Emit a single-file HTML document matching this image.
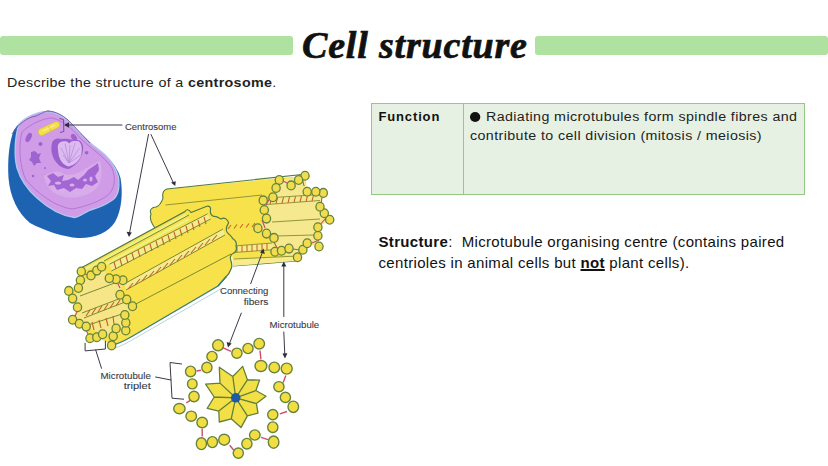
<!DOCTYPE html>
<html><head><meta charset="utf-8">
<style>
*{margin:0;padding:0;box-sizing:border-box}
html,body{width:828px;height:466px;overflow:hidden;background:#fff}
body{position:relative;font-family:"Liberation Sans",sans-serif}
.bar{position:absolute;top:36.2px;height:18.6px;background:#afe1a0;border-radius:3px}
.t{position:absolute;white-space:nowrap;transform-origin:0 0}
#title{left:302px;top:23px;font-family:"Liberation Serif",serif;font-weight:bold;font-style:italic;font-size:38px;color:#111;line-height:44px;letter-spacing:0.82px;-webkit-text-stroke:0.7px #111}
#q{left:6.5px;top:74px;font-size:13px;color:#222;line-height:18px;letter-spacing:0.3px;transform:scaleX(1.1)}
#tbl{position:absolute;left:371px;top:103px;width:434px;height:91.5px;border:1.4px solid #94c985;background:#e7f1e3}
#div{position:absolute;left:90.5px;top:0;width:1.3px;height:100%;background:#94c985}
#fn{left:378.5px;top:107.5px;font-size:13px;font-weight:bold;color:#111;line-height:18.5px;letter-spacing:0.85px}
.f{font-size:12.5px;color:#222;line-height:18.5px;letter-spacing:0.35px;transform:scaleX(1.14)}
.bul{display:inline-block;width:9px;height:9.5px;border-radius:50%;background:#111;margin-right:5px;vertical-align:-0.5px}
.s{font-size:15px;color:#111;line-height:20px;letter-spacing:0.33px}
#ill{position:absolute;left:0;top:0}
</style></head><body>
<div class="bar" style="left:0;width:293px"></div>
<div class="bar" style="left:535px;width:293px"></div>
<div id="title" class="t">Cell structure</div>
<div id="q" class="t">Describe the structure of a <b>centrosome</b>.</div>
<div id="tbl"><div id="div"></div></div>
<div id="fn" class="t">Function</div>
<div class="t f" style="left:470px;top:108px"><span class="bul"></span>Radiating microtubules form spindle fibres and</div>
<div class="t f" style="left:470px;top:126.5px">contribute to cell division (mitosis / meiosis)</div>
<div class="t s" style="left:378.5px;top:232px"><b>Structure</b>:<span style="display:inline-block;width:9px"></span>Microtubule organising centre (contains paired</div>
<div class="t s" style="left:378.5px;top:252.8px">centrioles in animal cells but <b><u style="text-underline-offset:1.3px;text-decoration-thickness:1.5px">not</u></b> plant cells).</div>
<svg id="ill" width="828" height="466" viewBox="0 0 828 466">
<!-- cell -->
<path d="M48,110.5 C56,111 64,116 72,124 C80,133 88,142 98,149 C108,156 117,166 120.5,178 C123,192 122,210 115,222 C108,233 94,238.5 78,238 C64,237 45,231 30,223 C18,213 10,197 8.5,178 C7.5,160 9,142 14,130 C20,120 32,113 48,110.5 Z" fill="#1e63b2"/>
<path d="M48,111.5 C56,112 64,117 71,124 C80,133 88,142 98,149 C108,156 115,165 118.5,177 C120,189 118,196 112.5,200 C106,204.5 100,207.5 92,209.5 C86,211 80,217 74.5,217.5 C62,216 48,208 37,198 C29,191 21,181 17,168 C14,156 14.5,138 19,124 C27,116 37,112 48,111.5 Z" fill="#d09be7" stroke="#b0c8f2" stroke-width="1.3"/>
<path d="M22,132 C30,124 44,118 52,118 C62,120 72,128 80,138 C90,148 104,156 112,168 C116,178 115,189 108,195 C99,202 84,207 72,209 C56,207 38,194 26,180 C20,168 18,146 22,132 Z" fill="none" stroke="#a56ac8" stroke-width="0.7"/>
<path d="M12,134 C18,124 28,117 36,116 C42,113 46,111 48,111.2 C56,111.5 62,115 68,120 C76,128 84,137 90,143" fill="none" stroke="#7a5aa8" stroke-width="0.9"/>
<!-- nucleus -->
<path d="M52,143 C53,139 57,137.5 62,139 C68,138 72,140 74,140 C80,139 84,143 83,150 C82,158 77,165 69,169 C62,169 56,164 53,157 C51,152 51,147 52,143 Z" fill="#9c60ce"/>
<path d="M58,145 C59,141.5 63,140.5 67,141.5 L69.2,143.5 C71,141 75,140 79,141.5 C82,144 82.5,150 81,156 C79,161 75,165 68.5,166.5 C63,165 59.5,160 58.5,154 C58,150 57.5,147 58,145 Z" fill="#dcbcf0"/>
<g stroke="#b587d8" stroke-width="0.7"><path d="M69,163 L61,148 M69,163 L65,143.5 M69,163 L70,145 M69,163 L75,143 M69,163 L79.5,148 M69,163 L80.5,155 M69,163 L63,155"/></g>
<!-- chromosomes -->
<path d="M44,176 C52,171 58,170 64,174 C70,176 76,174 82,171 C88,167 94,163 100,161 C103,170 102,182 96,189 C87,196 76,199 65,197 C55,195 46,189 44,176 Z" fill="#d8ace8"/>
<g fill="#a366d4">
<path d="M47,176 L53,173 L58,177 L64,175 L62,181 L68,180 L74,177 L78,180 L84,175 L88,170 L94,166 L98,163 L99,170 L95,176 L98,182 L92,186 L86,184 L82,189 L76,188 L70,192 L64,188 L57,190 L54,185 L48,186 L51,181 Z"/>
</g>
<g fill="#d6b0ec"><ellipse cx="58" cy="183" rx="3" ry="1.6"/><ellipse cx="72" cy="185" rx="2.5" ry="1.5"/><ellipse cx="85" cy="180" rx="2" ry="1.5"/><ellipse cx="62" cy="191" rx="3" ry="1.4"/><ellipse cx="78" cy="193" rx="4" ry="1.5"/><ellipse cx="91" cy="179" rx="1.6" ry="2.5"/></g>
<g fill="#9d64d0">
<ellipse cx="28.7" cy="137.5" rx="2.6" ry="5" transform="rotate(25 28.7 137.5)"/>
<path d="M31,152 L35,151 L38,154 L41,153 L39,158 L41,163 L37,163 L34,166 L32,162 L29,160 L31,157 Z"/>
<circle cx="40.5" cy="144" r="2"/>
<ellipse cx="74" cy="137.5" rx="2.4" ry="4" transform="rotate(-35 74 137.5)"/>
<circle cx="86.6" cy="152.8" r="1.8"/>
<circle cx="33" cy="176" r="1.2"/><circle cx="45" cy="168" r="1"/>
</g>
<!-- centriole -->
<path d="M40,129 L55,122 C59,120.5 61,125 58,127.5 L43,135 C39,137 36.5,131 40,129 Z" fill="#f4e04a" stroke="#e0c42c" stroke-width="0.7"/>
<path d="M43,131 L55,125" stroke="#faf0a0" stroke-width="1.2"/>
<path d="M48.5,126 L51,131" stroke="#d8b830" stroke-width="0.7"/>
<path d="M59.5,118.5 L63.5,119.5 L63.8,131.5 L60,132.5" fill="none" stroke="#6a4a88" stroke-width="0.9"/>
<!-- upper bundle -->
<g id="ub">
<path d="M167,189 L305,175.7 L307.2,191.8 L315.8,191.8 L323.3,192.9 L320,206.8 L324.3,213.2 L329.7,219.7 L317.9,227.2 L317.9,235.8 L319,246.5 L307.2,243.3 L302.9,249.7 L297.5,257.2 L296,261 L233,266 L232,252 L155,228 C152,224 149,219 151,214 C149,210 152,207 156,207 C161,205 162,201 163,198 C162,193 164,190 167,189 Z" fill="#f8e24c"/>
<path d="M302,174.5 L167,189 C164,190 162,193 163,198 C162,201 161,205 156,207 C152,207 149,210 151,214 C149,219 152,224 155,228 M233,266 L296,261" fill="none" stroke="#4f7a42" stroke-width="1.1"/>
<path d="M279,180 L305,176 L307,192 L323,193 L320,207 L329,220 L318,227 L319,246 L307,243 L297,257 L275,252 L274,238 L258,228 L266,218 L263,200 L273,197 Z" fill="#f6e88e"/>
<path d="M234,246 L272,243 L276,249.5 L234,252.5 Z M234,259 L298,256 L296,261 L233,266 Z" fill="#f7eb8e"/>
<g stroke="#8a9434" stroke-width="0.95" fill="none">
<path d="M165.5,205 L262,195"/>
<path d="M266,198 L320,194.5 M267,204.5 L320,200.5"/>
<path d="M272,222 L320,219"/>
<path d="M276,236 L314,235"/>
<path d="M234,246 L272,243 M234,252.5 L276,249.5"/>
<path d="M234,259 L298,256"/>
</g>
<g stroke="#c0642a" stroke-width="1.05">
<path d="M237,246 L237,252 M242,245.5 L242,252 M247,245 L247,251.5 M252,244.8 L252,251.2 M257,244.5 L257,251 M262,244 L262,250.5 M267,243.5 L267,250"/>
<path d="M270,204 L271.5,198 M276,203.6 L277.5,197.6 M282,203.2 L283.5,197.2 M288,202.8 L289.5,196.8 M294,202.4 L295.5,196.4 M300,202 L301.5,196 M306,201.6 L307.5,195.6 M312,201.2 L313.5,195.2"/>
<path d="M228,229 L231,225 M234,228.5 L237,224.5 M240,228 L243,224 M246,227.5 L249,223.5 M252,227 L255,223"/>
</g>
<g stroke="#c8486a" stroke-width="1.1" fill="none">
<path d="M283,181 L289,184 M302,177 L304,186 M310,191 L315,192 M322,197 L321,206 M326,218 L319,226 M319,240 L312,243 M300,250 L293,249 M278,250 L273,240 M265,228 L262,220 M266,205 L270,198"/>
</g>
<g fill="#f1dc4e" stroke="#66843a" stroke-width="1.3">
<ellipse cx="279.3" cy="180" rx="4.1" ry="4.4"/><ellipse cx="276.1" cy="188" rx="4.1" ry="4.4"/><ellipse cx="272.9" cy="197.2" rx="4.1" ry="4.4"/>
<ellipse cx="263.2" cy="200.4" rx="4.1" ry="4.4"/><ellipse cx="264.3" cy="210" rx="4.1" ry="4.4"/><ellipse cx="266.5" cy="218.6" rx="4.1" ry="4.4"/>
<ellipse cx="257.9" cy="228.3" rx="4.1" ry="4.4"/><ellipse cx="266.5" cy="233.6" rx="4.1" ry="4.4"/><ellipse cx="274" cy="237.9" rx="4.1" ry="4.4"/>
<ellipse cx="275" cy="251.8" rx="4.1" ry="4.4"/><ellipse cx="281.5" cy="250.8" rx="4.1" ry="4.4"/><ellipse cx="289" cy="248.6" rx="4.1" ry="4.4"/>
<ellipse cx="297.5" cy="257.2" rx="4.1" ry="4.4"/><ellipse cx="302.9" cy="249.7" rx="4.1" ry="4.4"/><ellipse cx="307.2" cy="243.3" rx="4.1" ry="4.4"/>
<ellipse cx="319" cy="246.5" rx="4.1" ry="4.4"/><ellipse cx="317.9" cy="235.8" rx="4.1" ry="4.4"/><ellipse cx="317.9" cy="227.2" rx="4.1" ry="4.4"/>
<ellipse cx="329.7" cy="219.7" rx="4.1" ry="4.4"/><ellipse cx="324.3" cy="213.2" rx="4.1" ry="4.4"/><ellipse cx="320" cy="206.8" rx="4.1" ry="4.4"/>
<ellipse cx="323.3" cy="192.9" rx="4.1" ry="4.4"/><ellipse cx="315.8" cy="191.8" rx="4.1" ry="4.4"/><ellipse cx="307.2" cy="191.8" rx="4.1" ry="4.4"/>
<ellipse cx="305" cy="175.7" rx="4.1" ry="4.4"/><ellipse cx="298.6" cy="180" rx="4.1" ry="4.4"/><ellipse cx="291.1" cy="185.4" rx="4.1" ry="4.4"/>
</g>
</g>
<!-- left bundle -->
<g id="lb">
<path d="M81,268 L185,211.5 C186.5,209 189,209 191,212.5 L206.8,206.3 C209,205.5 211,207 210.5,210 C210,213 211,215.5 214,216.5 C217,216 219,218 221,219 C224,217 228,219 228.6,223 C227,226 225,228 227,232 C229,235 232,236 232.5,238.5 C235,240 237,243 236,246 C237,249 236,252 233,253.5 C230,255 230,258 231,261 C232,264 232,267 231,269 C230,272 228,275 226.3,276.5 L218,286 L131,337 C124,341 118,344 112,345 L96.8,337.2 L90,338.2 L86.2,326.6 L79.4,323.7 L72.6,319.8 L77.5,307.3 L72.6,298.6 L68.8,290.9 L78.4,288 L80.4,280.2 L81.3,271.5 Z" fill="#f8e24c"/>
<path d="M81,268 L185,211.5 C186.5,209 189,209 191,212.5 L206.8,206.3 C209,205.5 211,207 210.5,210 C210,213 211,215.5 214,216.5 C217,216 219,218 221,219 C224,217 228,219 228.6,223 C227,226 225,228 227,232 C229,235 232,236 232.5,238.5 C235,240 237,243 236,246 C237,249 236,252 233,253.5 C230,255 230,258 231,261 C232,264 232,267 231,269 C230,272 228,275 226.3,276.5 L218,286" fill="none" stroke="#4f7a42" stroke-width="1.2"/>
<path d="M84,270 L186,215 M104,265 L189,219" stroke="#eef08a" stroke-width="2.2" fill="none"/>
<path d="M226.3,276.5 L218,286 L131,337 C124,341 118,344 112,345" stroke="#3d7f78" stroke-width="1.4" fill="none"/>
<path d="M221,288.8 L132,340 C125,344 119,347 114,348" stroke="#bcd4da" stroke-width="1" fill="none"/>
<path d="M91,275 L101.6,266.7 L109,278 L122.9,280.2 L120,294.7 L132.5,306.3 L124.8,315 L125.8,330.5 L113.2,336.3 L102.6,334.3 L86.2,326.6 L72.6,319.8 L77.5,307.3 L72.6,298.6 L78.4,288 Z" fill="#f6e688"/>
<path d="M109.6,264.2 L207.6,213.8 L210.6,219 L111.3,271.1 Z M124,284 L223,229 L225,235 L126,290 Z" fill="#f7eb8e"/>
<g stroke="#7a8a30" stroke-width="1" fill="none">
<path d="M104,261 L189,215"/>
<path d="M109.6,264.2 L207.6,213.8 M111.3,271.1 L210.6,219"/>
<path d="M124,284 L223,229 M126,290 L225,235"/>
<path d="M134,305 L231,254"/>
<path d="M80,296 L120,281 M82,313 L124,297 M84,318 L125,302"/>
<path d="M82,327 L122,314"/>
</g>
<g stroke="#c0642a" stroke-width="1.1">
<path d="M114,262 L116,269 M120,259 L122,266 M126,256 L128,263 M132,253 L134,260 M138,250 L140,257 M144,247 L146,254 M150,244 L152,251 M156,241 L158,248 M162,238 L164,245 M168,235 L170,242 M174,232 L176,239 M180,229 L182,236 M186,226 L188,233 M192,223 L194,230 M198,220 L200,227 M204,217 L206,224"/>
<path d="M128,289 L133,283 M135,285 L140,279 M142,281 L147,275 M149,277 L154,271 M156,273 L161,267 M163,269 L168,263 M170,265 L175,259 M177,261 L182,255 M184,257 L189,251 M191,253 L196,247 M198,249 L203,243 M205,245 L210,239 M212,241 L217,235"/>
<path d="M86,316 L90,310 M92,314 L96,308 M98,312 L102,306 M104,310 L108,304 M110,308 L114,302 M116,306 L120,300"/>
<path d="M92,322 L94,330 M99,320 L101,328 M106,318 L108,326 M113,316 L114,324"/>
</g>
<g stroke="#c8486a" stroke-width="1.1" fill="none">
<path d="M85,274 L92,276 M98,270 L103,267 M80,285 L80,288 M71,295 L74,300 M77,312 L74,318 M84,326 L88,334 M99,336 L107,335 M114,332 L117,328 M124,326 L126,318 M128,303 L122,296 M120,288 L116,280"/>
</g>
<g fill="#f1dc4e" stroke="#66843a" stroke-width="1.3">
<ellipse cx="81.3" cy="271.5" rx="4.1" ry="4.4"/><ellipse cx="91" cy="275.4" rx="4.1" ry="4.4"/><ellipse cx="96.8" cy="270.6" rx="4.1" ry="4.4"/><ellipse cx="101.6" cy="266.7" rx="4.1" ry="4.4"/>
<ellipse cx="80.4" cy="280.2" rx="4.1" ry="4.4"/><ellipse cx="78.4" cy="288" rx="4.1" ry="4.4"/><ellipse cx="68.8" cy="290.9" rx="4.1" ry="4.4"/>
<ellipse cx="72.6" cy="298.6" rx="4.1" ry="4.4"/><ellipse cx="77.5" cy="307.3" rx="4.1" ry="4.4"/><ellipse cx="72.6" cy="319.8" rx="4.1" ry="4.4"/>
<ellipse cx="79.4" cy="323.7" rx="4.1" ry="4.4"/><ellipse cx="86.2" cy="326.6" rx="4.1" ry="4.4"/><ellipse cx="90" cy="338.2" rx="4.1" ry="4.4"/>
<ellipse cx="96.8" cy="337.2" rx="4.1" ry="4.4"/><ellipse cx="102.6" cy="334.3" rx="4.1" ry="4.4"/><ellipse cx="113.2" cy="336.3" rx="4.1" ry="4.4"/>
<ellipse cx="116.1" cy="328.5" rx="4.1" ry="4.4"/><ellipse cx="125.8" cy="330.5" rx="4.1" ry="4.4"/><ellipse cx="125.8" cy="322.7" rx="4.1" ry="4.4"/>
<ellipse cx="124.8" cy="315" rx="4.1" ry="4.4"/><ellipse cx="132.5" cy="306.3" rx="4.1" ry="4.4"/><ellipse cx="126.7" cy="299.5" rx="4.1" ry="4.4"/>
<ellipse cx="120" cy="294.7" rx="4.1" ry="4.4"/><ellipse cx="122.9" cy="280.2" rx="4.1" ry="4.4"/><ellipse cx="116.1" cy="279.3" rx="4.1" ry="4.4"/>
<ellipse cx="109.3" cy="278.3" rx="4.1" ry="4.4"/><ellipse cx="111.6" cy="345.4" rx="4.1" ry="4.4"/>
</g>
</g>
<!-- cross section -->
<g id="xs">
<path d="M196.6,371 L200.9,370.2 M223.2,347.9 L231,351.3 M186.3,402.8 L190.6,400.2 M202.2,428.8 L202.2,436.6 M229.7,445.2 L233.6,450 M261,437.4 L268.1,439.7 M279.9,413.8 L287,411.5 M285.8,375.5 L283.2,382.4 M260,350.6 L260.9,359.2" stroke="#d04a72" stroke-width="1.4" fill="none"/>
<g fill="#f2de42" stroke="#66843a" stroke-width="1.4">
<ellipse cx="218.1" cy="345.3" rx="5.5" ry="5.5"/><ellipse cx="212" cy="356.5" rx="5.1" ry="5.1"/><ellipse cx="206.9" cy="367.6" rx="5.1" ry="5.3"/><ellipse cx="190.6" cy="371.4" rx="5.1" ry="5.3"/><ellipse cx="192.3" cy="383.9" rx="4.8" ry="5.0"/><ellipse cx="194" cy="396.5" rx="5.1" ry="5.3"/><ellipse cx="179.4" cy="408.6" rx="5.7" ry="5.1"/><ellipse cx="191.2" cy="416.2" rx="5.3" ry="5.1"/><ellipse cx="202.2" cy="422.5" rx="5.3" ry="5.3"/><ellipse cx="201.4" cy="443.7" rx="5.1" ry="5.9"/><ellipse cx="212.4" cy="442.1" rx="5.1" ry="5.5"/><ellipse cx="224.2" cy="439.7" rx="5.5" ry="5.5"/><ellipse cx="238.3" cy="453.1" rx="5.1" ry="5.1"/><ellipse cx="246.9" cy="443.7" rx="5.1" ry="5.3"/><ellipse cx="254.8" cy="435" rx="5.3" ry="5.1"/><ellipse cx="273.6" cy="442.1" rx="5.3" ry="6.1"/><ellipse cx="272.8" cy="427.2" rx="5.1" ry="5.3"/><ellipse cx="272.8" cy="414.6" rx="5.1" ry="5.1"/><ellipse cx="293.3" cy="406.8" rx="5.3" ry="5.7"/><ellipse cx="285.4" cy="397.4" rx="5.1" ry="5.1"/><ellipse cx="278.9" cy="386.7" rx="5.1" ry="5.1"/><ellipse cx="286.7" cy="368.6" rx="5.5" ry="5.5"/><ellipse cx="274.3" cy="367.4" rx="5.3" ry="5.3"/><ellipse cx="260.9" cy="366" rx="5.9" ry="5.5"/><ellipse cx="259.2" cy="343.7" rx="5.3" ry="5.3"/><ellipse cx="248" cy="348.5" rx="5.1" ry="5.1"/><ellipse cx="236.9" cy="353.2" rx="5.1" ry="5.1"/>
</g>
<path d="M235.7,397.8 L220.0,383.1 L219.3,367.2 L232.8,376.5 Z M235.7,397.8 L232.8,376.5 L242.7,366.4 L247.4,379.8 Z M235.7,397.8 L247.4,379.8 L259.6,380.1 L255.9,390.5 Z M235.7,397.8 L255.9,390.5 L266.0,396.2 L256.4,403.6 Z M235.7,397.8 L256.4,403.6 L258.0,413.1 L247.4,415.9 Z M235.7,397.8 L247.4,415.9 L241.0,427.6 L231.2,418.8 Z M235.7,397.8 L231.2,418.8 L219.3,422.0 L218.8,411.1 Z M235.7,397.8 L218.8,411.1 L207.2,408.3 L214.2,397.0 Z M235.7,397.8 L214.2,397.0 L205.6,384.1 L220.0,383.1 Z" fill="#f3df46" stroke="#62803a" stroke-width="1.3" stroke-linejoin="round"/>
<circle cx="235.7" cy="397.8" r="4.8" fill="#1c5aa6"/>
</g>
<!-- labels & arrows -->
<g stroke="#3a3a48" stroke-width="1" fill="none" stroke-linecap="round">
<path d="M122,125 L66,125"/>
<path d="M148.5,134.5 L129.5,233"/>
<path d="M151,134.5 L173.5,183"/>
<path d="M262.5,252 L250.7,283.7"/>
<path d="M241.3,313.1 L229.3,344"/>
<path d="M283.8,265 L283.8,316.5"/>
<path d="M283.8,332 L284.8,355"/>
<path d="M85.1,343.2 L85.1,350.9 L105.4,349 L105.4,341.2"/><path d="M95.7,350 L101.5,368.3"/>
<path d="M181.6,364 L170,362.5 L172,398.2 L183.6,399.2"/><path d="M155.6,377 L171,380"/>
</g>
<g fill="#2e2e3a">
<path d="M64,125 L69,122.3 L69,127.7 Z"/>
<path d="M129,237 L126.6,231.8 L131.8,232.6 Z"/>
<path d="M175.2,186 L171,182.5 L175.8,181.2 Z"/>
<path d="M263.5,248.5 L264.8,254 L260,252.6 Z"/>
<path d="M228,347.5 L226.6,342 L231.6,343.4 Z"/>
<path d="M283.8,261.5 L286.3,266.5 L281.3,266.5 Z"/>
<path d="M285,358.5 L282.4,353.5 L287.4,353.3 Z"/>
</g>
<g font-family="&quot;Liberation Sans&quot;, sans-serif" font-size="9.6" fill="#3a3a44" stroke="#3a3a44" stroke-width="0.1">
<text x="125" y="130" textLength="51.5" lengthAdjust="spacingAndGlyphs">Centrosome</text>
<text x="220" y="294" textLength="48.4" lengthAdjust="spacingAndGlyphs">Connecting</text>
<text x="243.7" y="305" textLength="24.7" lengthAdjust="spacingAndGlyphs">fibers</text>
<text x="269.6" y="327.5" textLength="49.6" lengthAdjust="spacingAndGlyphs">Microtubule</text>
<text x="100.5" y="379" textLength="50.3" lengthAdjust="spacingAndGlyphs">Microtubule</text>
<text x="123.7" y="388.7" textLength="27.1" lengthAdjust="spacingAndGlyphs">triplet</text>
</g>

</svg>
</body></html>
